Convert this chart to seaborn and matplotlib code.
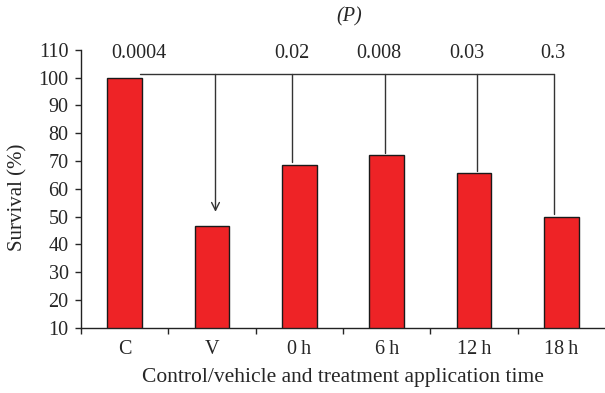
import matplotlib
matplotlib.use("Agg")
import matplotlib.pyplot as plt
import seaborn as sns
import pandas as pd

categories = ["C", "V", "0\u2009h", "6\u2009h", "12\u2009h", "18\u2009h"]
survival = [100, 46.5, 68.7, 72.0, 65.5, 49.8]
p_labels = ["0.0004", "0.02", "0.008", "0.03", "0.3"]
p_targets = [1, 2, 3, 4, 5]

sns.set_theme(style="ticks")
plt.rcParams['font.family'] = ['Liberation Serif', 'DejaVu Serif']

df = pd.DataFrame({"cat": categories, "surv": survival})

fig = plt.figure(figsize=(6.05, 3.93), dpi=100)
ax = fig.add_axes([0.1339, 0.166, 0.8661, 0.7075])
sns.barplot(data=df, x="cat", y="surv", color="#EE2326", saturation=1,
            width=0.4, edgecolor="#1a1a1a", linewidth=1.0, ax=ax)

fs = 14.5
ax.set_ylim(10, 110)
ax.set_xlim(-0.5, 5.5)
ax.set_yticks(range(10, 111, 10))
ax.set_xticks([i - 0.5 for i in range(len(categories))], minor=False)
ax.set_xticklabels([])
ax.set_xticks(range(len(categories)), minor=True)
ax.set_xticklabels(categories, minor=True)
ax.tick_params(axis="x", which="minor", length=0, labelsize=fs, pad=9)
ax.tick_params(axis="x", which="major", length=4, width=1, direction="out")
ax.tick_params(axis="y", length=4, width=1, labelsize=fs, pad=5)
for s in ["top", "right"]:
    ax.spines[s].set_visible(False)
for s in ["left", "bottom"]:
    ax.spines[s].set_linewidth(1.0)
    ax.spines[s].set_color("#222222")

ax.set_ylabel("Survival (%)", fontsize=15)
ax.yaxis.set_label_coords(-0.103, 0.47)
ax.set_xlabel("Control/vehicle and treatment application time", fontsize=15.5, labelpad=6)

# bracket annotations
line_color = "#333333"
bar_y = 101.1
x_off = [0.04, -0.08, -0.015, 0.03, -0.08]
txt_off = [0.0, -0.08, -0.085, -0.08, -0.1]
start_x = 0.17
end_x = p_targets[-1] + x_off[-1]
ax.plot([start_x, end_x], [bar_y, bar_y], color=line_color, lw=1.0, clip_on=False)
for i, tgt in enumerate(p_targets):
    xv = tgt + x_off[i]
    top = survival[tgt]
    if i == 0:
        ax.annotate("", xy=(xv, top + 5.2), xytext=(xv, bar_y),
                    arrowprops=dict(arrowstyle="->", color=line_color, lw=1.0,
                                    mutation_scale=14, shrinkA=0, shrinkB=0))
    else:
        ax.plot([xv, xv], [bar_y, top - 0.8 if top + 1 > bar_y else top + 1.0],
                color=line_color, lw=1.0)

label_x = [0.16] + [p_targets[i] + txt_off[i] for i in range(1, len(p_targets))]
for lx, lab in zip(label_x, p_labels):
    ax.text(lx, 108.5, lab, ha="center", va="center", fontsize=fs)

fig.text(0.577, 0.957, "(P)", ha="center", va="center", fontsize=fs, style="italic")

fig.savefig("out.png", dpi=100)
